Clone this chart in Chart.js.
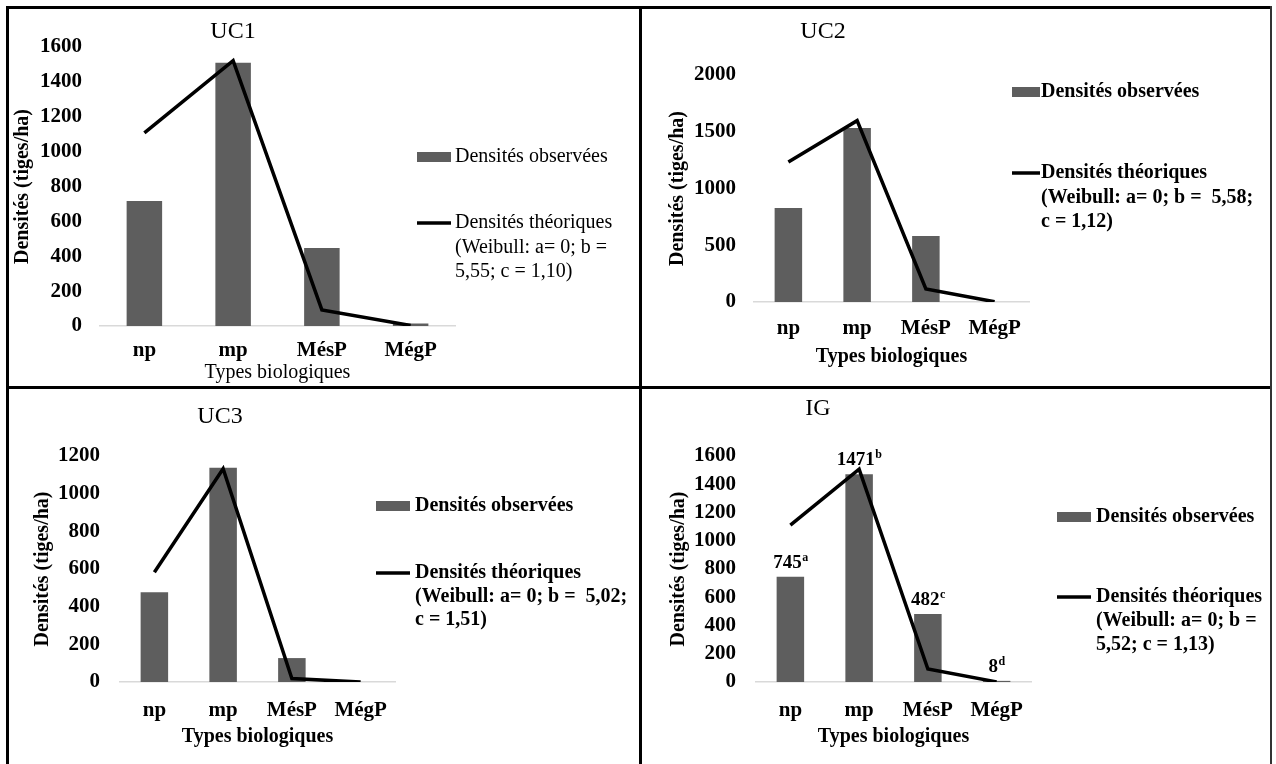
<!DOCTYPE html>
<html>
<head>
<meta charset="utf-8">
<script src="https://cdn.jsdelivr.net/npm/chart.js@4.4.0/dist/chart.umd.min.js"></script>
<style>
  body { margin: 0; background: #fff; }
  #page { position: relative; width: 1276px; height: 764px; overflow: hidden; background: #fff; }
  canvas { position: absolute; }
  .rule { position: absolute; background: #000; z-index: 5; }
</style>
</head>
<body>
<div id="page">
  <canvas id="uc1"></canvas>
  <canvas id="uc2"></canvas>
  <canvas id="uc3"></canvas>
  <canvas id="ig"></canvas>
  <div class="rule" style="left:6px;top:6px;width:1266px;height:3px"></div>
  <div class="rule" style="left:6px;top:6px;width:3px;height:758px"></div>
  <div class="rule" style="left:639px;top:6px;width:3px;height:758px"></div>
  <div class="rule" style="left:6px;top:386px;width:1266px;height:3px"></div>
  <div class="rule" style="left:1270px;top:6px;width:2px;height:758px;background:#333"></div>
</div>
<script>
// data
const categories = ["np", "mp", "MésP", "MégP"];

const uc1Observed = [717, 1510, 447, 15];
const uc1Theoretical = [1108, 1522, 92, 3];

const uc2Observed = [828, 1533, 581, 0];
const uc2Theoretical = [1233, 1598, 115, 2];

const uc3Observed = [476, 1137, 127, 0];
const uc3Theoretical = [583, 1132, 18, 0];

const igObserved = [745, 1471, 482, 8];
const igTheoretical = [1111, 1507, 92, 1];
const igValueLabels = ["745", "1471", "482", "8"];
const igLetters = ["a", "b", "c", "d"];

const uc1Axis = [0, 1600, 200];
const uc2Axis = [0, 2000, 500];
const uc3Axis = [0, 1200, 200];
const igAxis = [0, 1600, 200];

const observedLabel = "Densités observées";
const uc1TheoLabel = ["Densités théoriques", "(Weibull: a= 0; b =", "5,55; c = 1,10)"];
const uc2TheoLabel = ["Densités théoriques", "(Weibull: a= 0; b =  5,58;", "c = 1,12)"];
const uc3TheoLabel = ["Densités théoriques", "(Weibull: a= 0; b =  5,02;", "c = 1,51)"];
const igTheoLabel = ["Densités théoriques", "(Weibull: a= 0; b =", "5,52; c = 1,13)"];

const yTitle = "Densités (tiges/ha)";
const xTitle = "Types biologiques";

const serif = "'Liberation Serif', 'Times New Roman', serif";
const barColor = "#5e5e5e";

function buildPanel(p) {
  const canvas = document.getElementById(p.id);
  canvas.width = p.w;
  canvas.height = p.h;
  canvas.style.left = p.x + "px";
  canvas.style.top = p.y + "px";

  // title, legend and value labels
  const decor = {
    id: "decor_" + p.id,
    afterDraw(chart) {
      const ctx = chart.ctx;
      ctx.save();
      ctx.fillStyle = "#000";
      ctx.textBaseline = "middle";
      ctx.textAlign = "center";
      ctx.font = "24px " + serif;
      ctx.fillText(p.title, p.titleX - p.x, p.titleY - p.y);

      const lg = p.legend;
      ctx.fillStyle = barColor;
      ctx.fillRect(lg.sx - p.x, lg.barY - p.y - 5, lg.sw, 10);
      ctx.strokeStyle = "#000";
      ctx.lineWidth = 3.5;
      ctx.beginPath();
      ctx.moveTo(lg.sx - p.x, lg.lineY - p.y);
      ctx.lineTo(lg.sx - p.x + lg.sw, lg.lineY - p.y);
      ctx.stroke();

      ctx.fillStyle = "#000";
      ctx.textAlign = "left";
      ctx.font = (p.bold ? "bold " : "") + "20px " + serif;
      ctx.fillText(observedLabel, lg.textX - p.x, lg.barY - p.y);
      p.theoLabel.forEach(function (t, i) {
        ctx.fillText(t, lg.textX - p.x, lg.lineY - p.y + i * lg.lh);
      });

      if (p.valueLabels) {
        const meta = chart.getDatasetMeta(0);
        ctx.textBaseline = "alphabetic";
        meta.data.forEach(function (bar, i) {
          ctx.font = "bold 19px " + serif;
          const wn = ctx.measureText(p.valueLabels[i]).width;
          ctx.font = "bold 12px " + serif;
          const wl = ctx.measureText(p.letters[i]).width;
          const x0 = bar.x - (wn + wl) / 2;
          const base = bar.y - 9;
          ctx.font = "bold 19px " + serif;
          ctx.fillText(p.valueLabels[i], x0, base);
          ctx.font = "bold 12px " + serif;
          ctx.fillText(p.letters[i], x0 + wn + 0.5, base - 7);
        });
      }
      ctx.restore();
    },
  };

  const tickFont = { family: serif, size: 21, weight: "bold" };

  new Chart(canvas, {
    type: "bar",
    data: {
      labels: categories,
      datasets: [
        {
          type: "bar",
          label: observedLabel,
          data: p.observed,
          backgroundColor: barColor,
          barPercentage: 0.4,
          categoryPercentage: 1,
          order: 1,
        },
        {
          type: "line",
          label: p.theoLabel.join(" "),
          data: p.theoretical,
          borderColor: "#000",
          borderWidth: 3.5,
          pointRadius: 0,
          tension: 0,
          fill: false,
          order: 0,
        },
      ],
    },
    options: {
      responsive: false,
      animation: false,
      layout: { padding: p.pad },
      plugins: { legend: { display: false }, tooltip: { enabled: false } },
      scales: {
        x: {
          grid: { display: false, drawTicks: false },
          border: { display: true, color: "#d9d9d9", width: 1.5 },
          ticks: { padding: p.xTickPad, color: "#000", font: tickFont },
          title: {
            display: true,
            text: xTitle,
            color: "#000",
            font: { family: serif, size: 20, weight: p.bold ? "bold" : "normal" },
            padding: { top: 0, bottom: p.xTitlePad },
          },
          afterFit(scale) {
            scale.height = p.xHeight;
          },
        },
        y: {
          min: p.axis[0],
          max: p.axis[1],
          grid: { display: false, drawTicks: false },
          border: { display: false },
          ticks: {
            stepSize: p.axis[2],
            padding: p.yTickPad,
            color: "#000",
            font: tickFont,
            format: { useGrouping: false },
          },
          title: {
            display: true,
            text: yTitle,
            color: "#000",
            font: { family: serif, size: 20, weight: "bold" },
            padding: 0,
          },
          afterFit(scale) {
            scale.width = p.yWidth;
          },
        },
      },
    },
    plugins: [decor],
  });
}

buildPanel({
  id: "uc1", x: 0, y: 0, w: 638, h: 386,
  observed: uc1Observed, theoretical: uc1Theoretical, axis: uc1Axis,
  theoLabel: uc1TheoLabel, bold: false,
  title: "UC1", titleX: 233, titleY: 32,
  pad: { top: 47, left: 11, right: 183, bottom: 0 },
  yWidth: 89, yTickPad: 18, xTickPad: 12, xHeight: 60, xTitlePad: 1,
  legend: { sx: 417, sw: 34, barY: 157, lineY: 223, textX: 455, lh: 24.5 },
});

buildPanel({
  id: "uc2", x: 642, y: 0, w: 634, h: 386,
  observed: uc2Observed, theoretical: uc2Theoretical, axis: uc2Axis,
  theoLabel: uc2TheoLabel, bold: true,
  title: "UC2", titleX: 823, titleY: 32,
  pad: { top: 75, left: 24, right: 247, bottom: 17 },
  yWidth: 88, yTickPad: 18, xTickPad: 14, xHeight: 67, xTitlePad: 0,
  legend: { sx: 1012, sw: 28, barY: 92, lineY: 173, textX: 1041, lh: 24.5 },
});

buildPanel({
  id: "uc3", x: 0, y: 390, w: 638, h: 374,
  observed: uc3Observed, theoretical: uc3Theoretical, axis: uc3Axis,
  theoLabel: uc3TheoLabel, bold: true,
  title: "UC3", titleX: 220, titleY: 417,
  pad: { top: 66, left: 31, right: 243, bottom: 15 },
  yWidth: 89, yTickPad: 20, xTickPad: 16, xHeight: 67, xTitlePad: 0,
  legend: { sx: 376, sw: 34, barY: 506, lineY: 573, textX: 415, lh: 23.5 },
});

buildPanel({
  id: "ig", x: 642, y: 390, w: 634, h: 374,
  observed: igObserved, theoretical: igTheoretical, axis: igAxis,
  theoLabel: igTheoLabel, bold: true,
  title: "IG", titleX: 818, titleY: 409,
  pad: { top: 66, left: 25, right: 245, bottom: 15 },
  yWidth: 89, yTickPad: 20, xTickPad: 16, xHeight: 67, xTitlePad: 0,
  legend: { sx: 1057, sw: 34, barY: 517, lineY: 597, textX: 1096, lh: 24 },
  valueLabels: igValueLabels, letters: igLetters,
});
</script>
</body>
</html>
